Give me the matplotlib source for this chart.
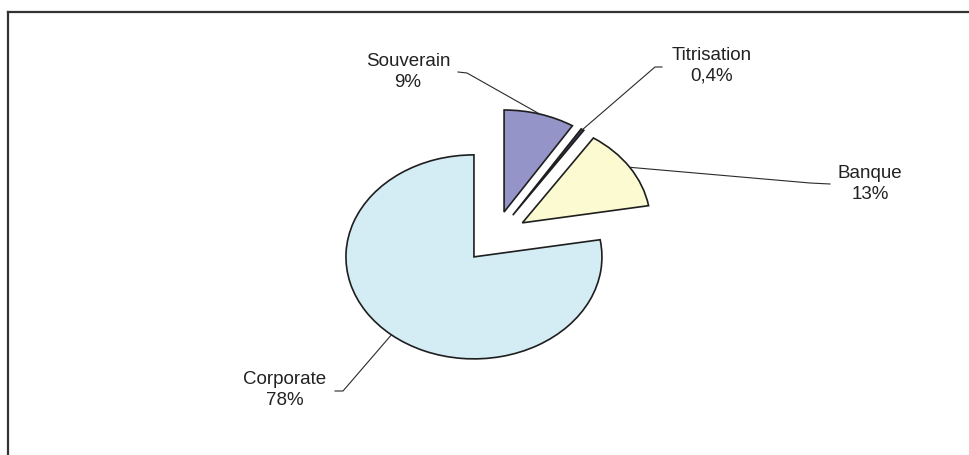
import numpy as np
import matplotlib
matplotlib.use("Agg")
import matplotlib.pyplot as plt

# Exposure breakdown by counterparty type
categories = ["Corporate", "Banque", "Titrisation", "Souverain"]
shares = [78, 13, 0.4, 9]
share_labels = ["78%", "13%", "0,4%", "9%"]
colors = ["#D4ECF3", "#FBFAD0", "#3A3A5A", "#9494C8"]

W, H, DPI = 970, 455, 100
CX, CY, RX, RY = 495, 237, 128, 102   # pie centre and radii in pixels


def px(x, y):
    """Pixel position -> data coordinates of the pie axes."""
    return (x - CX) / RX, (CY - y) / RY


fig = plt.figure(figsize=(W / DPI, H / DPI), dpi=DPI)
ax = fig.add_axes([0, 0, 1, 1])

wedges, _ = ax.pie(
    shares,
    colors=colors,
    startangle=90,
    counterclock=True,
    explode=[0.255] * len(shares),
    wedgeprops=dict(edgecolor="#1e1e1e", linewidth=1.2),
)
ax.set_aspect("auto")
ax.set_xlim(-CX / RX, (W - CX) / RX)
ax.set_ylim(-(H - CY) / RY, CY / RY)
ax.axis("off")

# label placement: text centre, elbow of leader, end of leader (pixels)
label_layout = {
    "Corporate": ((285, 390), (343, 391), (335, 391)),
    "Banque": ((870, 184), (810, 183), (830, 184)),
    "Titrisation": ((712, 66), (655, 67), (662, 67)),
    "Souverain": ((408, 72), (467, 73), (458, 72)),
}

for w, name, lab in zip(wedges, categories, share_labels):
    mid = np.deg2rad((w.theta1 + w.theta2) / 2)
    cx, cy = w.center
    ax0 = cx + w.r * np.cos(mid)
    ay0 = cy + w.r * np.sin(mid)
    tpos, elbow, end = label_layout[name]
    ex, ey = px(*elbow)
    fx, fy = px(*end)
    ax.plot([ax0, ex, fx], [ay0, ey, fy], color="#2a2a2a", lw=0.8,
            clip_on=False, zorder=1)
    tx, ty = px(*tpos)
    ax.text(tx, ty, f"{name}\n{lab}", ha="center", va="center",
            fontsize=13.5, family=["Liberation Sans", "DejaVu Sans"],
            color="#222222", linespacing=1.3)

# chart-area frame (left and top edges)
fx0, fy0 = px(8, 12)
ax.plot([fx0, fx0], [px(8, H + 5)[1], fy0], color="#333333", lw=1.6,
        clip_on=False)
ax.plot([fx0, px(W + 5, 12)[0]], [fy0, fy0], color="#333333", lw=1.6,
        clip_on=False)

fig.savefig("out.png", dpi=DPI)
